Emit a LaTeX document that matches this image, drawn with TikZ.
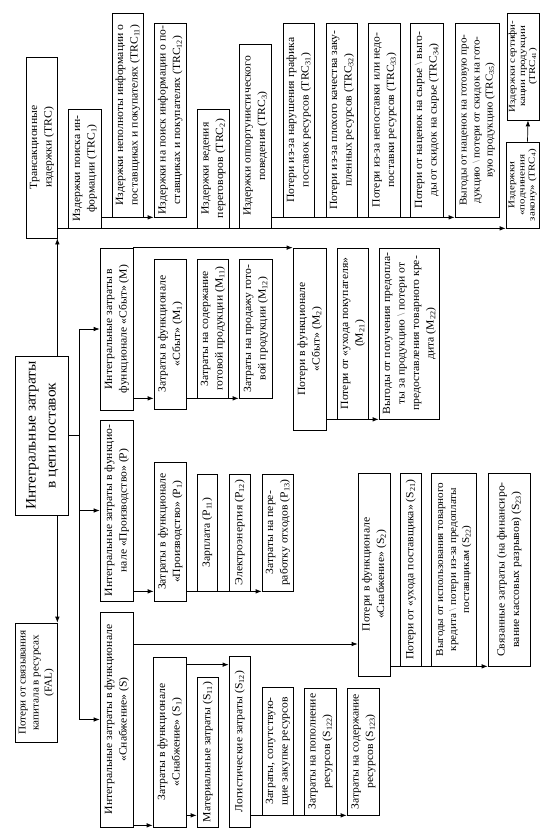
\documentclass[tikz,border=0pt]{standalone}
\usepackage{fontspec}
\setmainfont[FakeStretch=1.06]{Liberation Serif}
\usepackage{graphicx}
\usetikzlibrary{arrows.meta}
\newcommand\sbs[1]{\textsubscript{#1}}
\newcommand\bsl{\textcolor{gray}{\textbackslash}}
\newcommand\wide[1]{\scalebox{1.15}[1]{#1}}
\newcommand\bx[7][]{%
  \pgfmathsetmacro\bxW{#5-#3}%
  \pgfmathsetmacro\bxH{#6-#4}%
  \node[box,#1,minimum width=\bxW pt,minimum height=\bxH pt] (#2) at ({(#3+#5)/2},{(#4+#6)/2})
    {\rotatebox{90}{\begin{tabular}{@{}c@{}}#7\end{tabular}}};}
\begin{document}
\begin{tikzpicture}[x=1pt,y=-1pt,
  box/.style={draw,line width=0.7pt,inner sep=0pt,fill=white,font=\fontsize{11}{14.5}\selectfont},
  small/.style={font=\fontsize{9}{10.2}\selectfont},
  mid/.style={font=\fontsize{10.5}{13}\selectfont},
  big/.style={font=\fontsize{14.5}{20}\selectfont},
  ln/.style={line width=0.7pt},
  arr/.style={line width=0.7pt,-{Latex[length=6pt,width=4.5pt]}}]
\useasboundingbox (0,0) rectangle (557,839);
% transaction costs
\bx{TRC}{26}{57}{57}{238}{Трансакционные\\ издержки (TRC)}
\bx{TRC1}{68}{109}{101}{228}{Издержки поиска ин-\\формации (TRC\sbs{1})}
\bx{TRC11}{112}{13}{143}{217}{Издержки неполноты информации о\\ поставщиках и покупателях (TRC\sbs{11})}
\bx{TRC12}{154}{23}{186}{217}{Издержки на поиск информации о по-\\ставщиках и покупателях (TRC\sbs{12})}
\bx{TRC2}{197}{109}{229}{228}{Издержки ведения\\ переговоров (TRC\sbs{2})}
\bx{TRC3}{239}{44}{271}{228}{Издержки оппортунистического\\ поведения (TRC\sbs{3})}
\bx{TRC31}{283}{23}{314}{217}{Потери из-за нарушения графика\\ поставок ресурсов (TRC\sbs{31})}
\bx{TRC32}{326}{23}{357}{217}{Потери из-за плохого качества заку-\\пленных ресурсов (TRC\sbs{32})}
\bx{TRC33}{368}{23}{400}{217}{Потери из-за непоставки или недо-\\поставки ресурсов (TRC\sbs{33})}
\bx{TRC34}{410}{23}{443}{217}{Потери от наценок на сырье \bsl{} выго-\\ды от скидок на сырье (TRC\sbs{34})}
\bx[mid]{TRC35}{455}{23}{499}{217}{Выгоды от наценок на готовую про-\\дукцию \bsl{} потери от скидок на гото-\\вую продукцию (TRC\sbs{35})}
\bx[small]{TRC4}{506}{142}{539}{228}{\wide{Издержки}\\ \wide{«подчинения}\\ \wide{закону» (TRC\sbs{4})}}
\bx[small]{TRC41}{507}{13}{539}{120}{\wide{Издержки сертифи-}\\ \wide{кации продукции}\\ \wide{(TRC\sbs{41})}}
% main and FAL
\bx[big]{main}{15}{356}{68}{515}{Интегральные затраты\\ в цепи поставок}
\bx[mid]{FAL}{15}{623}{57}{742}{Потери от связывания\\ капитала в ресурсах\\ (FAL)}
% M
\bx{M}{100}{248}{133}{410}{Интегральные затраты в\\ функционале «Сбыт» (M)}
\bx{M1}{154}{259}{186}{409}{Затраты в функционале\\ «Сбыт» (M\sbs{1})}
\bx{M11}{197}{259}{228}{398}{Затраты на содержание\\ готовой продукции (M\sbs{11})}
\bx{M12}{239}{259}{272}{398}{Затраты на продажу гото-\\вой продукции (M\sbs{12})}
\bx{M2}{293}{248}{326}{430}{Потери в функционале\\ «Сбыт» (M\sbs{2})}
\bx{M21}{337}{248}{368}{419}{Потери от «ухода покупателя»\\ (M\sbs{21})}
\bx{M22}{379}{248}{439}{419}{Выгоды от получения предопла-\\ты за продукцию \bsl{} потери от\\ предоставления товарного кре-\\дита (M\sbs{22})}
% P
\bx{P}{100}{420}{133}{601}{Интегральные затраты в функцио-\\нале «Производство» (P)}
\bx{P1}{154}{462}{186}{601}{Затраты в функционале\\ «Производство» (P\sbs{1})}
\bx{P11}{197}{474}{217}{591}{Зарплата (P\sbs{11})}
\bx{P12}{229}{474}{250}{591}{Электроэнергия (P\sbs{12})}
\bx{P13}{262}{474}{293}{591}{Затраты на пере-\\работку отходов (P\sbs{13})}
% S
\bx{S}{100}{612}{133}{827}{Интегральные затраты в функционале\\ «Снабжение» (S)}
\bx{S1}{153}{657}{186}{827}{Затраты в функционале\\ «Снабжение» (S\sbs{1})}
\bx{S11}{197}{677}{218}{827}{Материальные затраты (S\sbs{11})}
\bx{S12}{229}{656}{250}{827}{Логистические затраты (S\sbs{12})}
\bx{S121}{262}{687}{293}{815}{Затраты, сопутствую-\\щие закупке ресурсов}
\bx{S122}{304}{688}{336}{815}{Затраты на пополнение\\ ресурсов (S\sbs{122})}
\bx{S123}{347}{688}{379}{815}{Затраты на содержание\\ ресурсов (S\sbs{123})}
\bx{S2}{358}{473}{390}{676}{Потери в функционале\\ «Снабжение» (S\sbs{2})}
\bx{S21}{400}{473}{421}{666}{Потери от «ухода поставщика» (S\sbs{21})}
\bx[mid]{S22}{431}{473}{476}{666}{Выгоды от использования товарного\\ кредита \bsl{} потери из-за предоплаты\\ поставщикам (S\sbs{22})}
\bx{S23}{488}{473}{530}{666}{Связанные затраты (на финансиро-\\вание кассовых разрывов) (S\sbs{23})}
% helper coordinates
\coordinate (tk) at (79,0);
\coordinate (lvS2) at (0,644);
\coordinate (s1top) at ([yshift=-8pt]S1.north east);
% connectors
\draw[arr] (main.north -| TRC.east) -- (TRC.south east);
\draw[arr] (main.south -| FAL.east) -- (FAL.north east);
\draw[ln] (main.east) -- (main.east -| tk);
\draw[ln] (tk |- M.west) -- (tk |- S.west);
\draw[arr] (tk |- M.west) -- (M.west);
\draw[arr] (tk |- P.west) -- (P.west);
\draw[arr] (tk |- S.west) -- (S.west);
\draw[arr] (TRC1.south -| TRC.east) -- (TRC4.south west);
\draw[arr] (TRC11.south -| TRC1.east) -- (TRC12.south west);
\draw[arr] (TRC31.south -| TRC3.east) -- (TRC35.south west);
\draw[arr] ([xshift=5pt]TRC4.north) -- ([xshift=5pt]TRC41.south);
\draw[arr] (M.north east) -- (M2.north west);
\draw[arr] (M11.south -| M.east) -- (M11.south -| M1.west);
\draw[arr] (M11.south -| M1.east) -- (M12.south west);
\draw[arr] (M21.south -| M2.east) -- (M22.south west);
\draw[arr] (P11.south -| P.east) -- (P11.south -| P1.west);
\draw[arr] (P11.south -| P1.east) -- (P13.south west);
\draw[arr] (lvS2 -| S.east) -- (lvS2 -| S2.west);
\draw[arr] (S21.south -| S2.east) -- (S23.south west);
\draw[arr] ([yshift=2pt]S.south east) -- ([yshift=2pt]S1.south west);
\draw[arr] (S121.south -| S1.east) -- (S121.south -| S11.west);
\draw[arr] (s1top) -- (s1top -| S12.west);
\draw[arr] (S121.south -| S12.east) -- (S123.south west);
\end{tikzpicture}
\end{document}
